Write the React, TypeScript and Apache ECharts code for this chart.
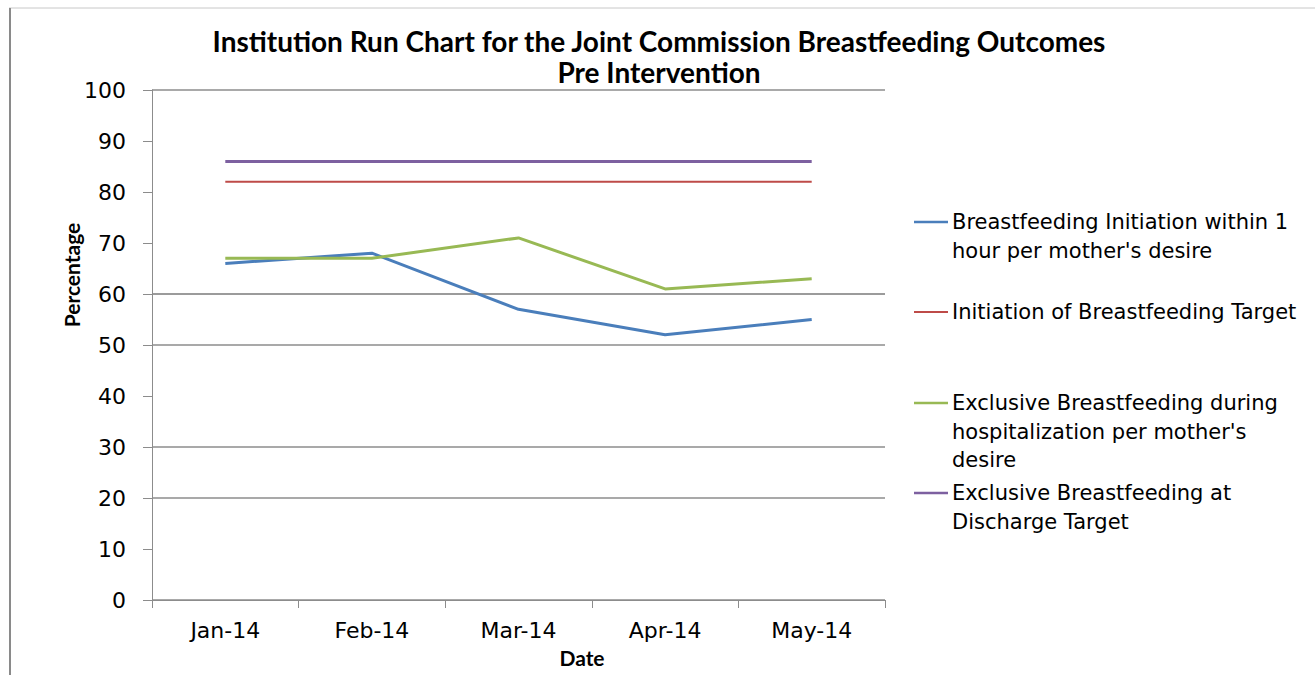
import React, { useEffect, useRef } from "react";
import * as echarts from "echarts";

const categories = ["Jan-14", "Feb-14", "Mar-14", "Apr-14", "May-14"];
const initiation = [66, 68, 57, 52, 55];
const initiationTarget = [82, 82, 82, 82, 82];
const exclusive = [67, 67, 71, 61, 63];
const exclusiveTarget = [86, 86, 86, 86, 86];
const seriesNames = [
  "Breastfeeding Initiation within 1\nhour per mother's desire",
  "Initiation of Breastfeeding Target",
  "Exclusive Breastfeeding during\nhospitalization per mother's\ndesire",
  "Exclusive Breastfeeding at\nDischarge Target",
];
const colors = ["#4A7EBB", "#BE4B48", "#98B954", "#7D60A0"];
const widths = [3, 2, 3, 3];
const legendY = [222, 312, 403, 493];
// per-gridline colours from 0 to 100
const gridColors = [
  "#8c8c8c", "rgba(0,0,0,0)", "#8c8c8c", "#8c8c8c", "rgba(0,0,0,0)", "#8c8c8c",
  "#7a7a7a", "rgba(0,0,0,0)", "rgba(0,0,0,0)", "rgba(0,0,0,0)", "#8c8c8c",
];

export default function App() {
  const ref = useRef<HTMLDivElement>(null);
  useEffect(() => {
    if (!ref.current) return;
    const chart = echarts.init(ref.current, null, { renderer: "svg" });
    const data = [initiation, initiationTarget, exclusive, exclusiveTarget];
    const font = "'DejaVu Sans', Verdana, sans-serif";
    const boldFont = "bold 21px Lato, sans-serif";
    const graphics: any[] = [
      {
        type: "line",
        shape: { x1: 9, y1: 8, x2: 1315, y2: 8 },
        style: { stroke: "#c8c8c8", lineWidth: 1 },
      },
      {
        type: "line",
        shape: { x1: 10, y1: 8, x2: 10, y2: 675 },
        style: { stroke: "#8a8a8a", lineWidth: 2 },
      },
    ];
    seriesNames.forEach((n, i) => {
      graphics.push({
        type: "line",
        shape: { x1: 914, y1: legendY[i], x2: 948, y2: legendY[i] },
        style: { stroke: colors[i], lineWidth: widths[i] === 3 ? 2.5 : 2 },
      });
      graphics.push({
        type: "text",
        x: 952,
        y: legendY[i] - 14.25,
        style: {
          text: n,
          font: `21px ${font}`,
          fill: "#000",
          lineHeight: 28.5,
          verticalAlign: "top",
        },
      });
    });
    graphics.push({
      type: "text",
      x: 71,
      y: 275,
      rotation: Math.PI / 2,
      style: { text: "Percentage", font: boldFont, fill: "#000", align: "center", verticalAlign: "middle" },
    });
    graphics.push({
      type: "text",
      x: 582,
      y: 657,
      style: { text: "Date", font: boldFont, fill: "#000", align: "center", verticalAlign: "middle" },
    });
    chart.setOption({
      animation: false,
      backgroundColor: "#fff",
      title: {
        text: "Institution Run Chart for the Joint Commission Breastfeeding Outcomes\nPre Intervention",
        left: 654,
        textAlign: "center",
        top: 20,
        textStyle: {
          fontFamily: "Lato, sans-serif",
          fontWeight: "bold",
          fontSize: 28,
          lineHeight: 31,
          color: "#000",
        },
      },
      grid: { left: 152, right: 430, top: 90, bottom: 75 },
      xAxis: {
        type: "category",
        data: categories,
        boundaryGap: true,
        axisLine: { lineStyle: { color: "#8c8c8c" } },
        axisTick: { show: true, length: 8, lineStyle: { color: "#8c8c8c" } },
        axisLabel: { fontFamily: font, fontSize: 22, color: "#000", margin: 19 },
        splitLine: { show: false },
      },
      yAxis: {
        type: "value",
        min: 0,
        max: 100,
        interval: 10,
        axisLine: { show: true, lineStyle: { color: "#8c8c8c" } },
        axisTick: { show: true, length: 9, lineStyle: { color: "#8c8c8c" } },
        axisLabel: { fontFamily: font, fontSize: 22, color: "#000", margin: 26 },
        splitLine: { show: true, lineStyle: { color: gridColors, width: 1.5 } },
      },
      series: data.map((d, i) => ({
        type: "line",
        name: seriesNames[i],
        data: d,
        symbol: "none",
        lineStyle: { color: colors[i], width: widths[i] },
        itemStyle: { color: colors[i] },
        z: 2 + i,
      })),
      graphic: graphics,
    });
    return () => chart.dispose();
  }, []);
  return (
    <div
      ref={ref}
      style={{ position: "absolute", left: 0, top: 0, width: 1315, height: 675 }}
    />
  );
}
